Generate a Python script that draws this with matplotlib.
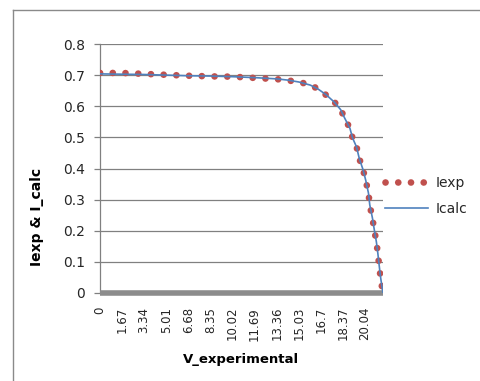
import matplotlib
matplotlib.use("Agg")
import matplotlib.pyplot as plt
from matplotlib.lines import Line2D

v_exp = [0, 1.67, 3.34, 5.01, 6.68, 8.35, 10.02, 11.69, 13.36, 14.2, 15.03,
         15.9, 16.5, 17.1, 17.7, 18.2, 18.5, 18.9, 19.1, 19.4, 19.6, 19.9,
         20.1, 20.3, 20.4, 20.6, 20.75, 20.9, 21.0, 21.1, 21.2, 21.3, 21.4]
i_exp = [0.707, 0.707, 0.704, 0.701, 0.698, 0.696, 0.695, 0.691, 0.687, 0.683, 0.678,
         0.669, 0.655, 0.636, 0.615, 0.590, 0.561, 0.529, 0.497, 0.470, 0.433, 0.395,
         0.360, 0.322, 0.282, 0.240, 0.200, 0.165, 0.130, 0.092, 0.055, 0.025, 0.0]
i_calc = [0.704, 0.703, 0.702, 0.700, 0.698, 0.697, 0.695, 0.692, 0.688, 0.684, 0.678,
          0.668, 0.655, 0.637, 0.614, 0.589, 0.562, 0.529, 0.498, 0.469, 0.433, 0.395,
          0.361, 0.321, 0.283, 0.241, 0.201, 0.164, 0.131, 0.093, 0.056, 0.026, 0.0]

x_ticks = [0, 1.67, 3.34, 5.01, 6.68, 8.35, 10.02, 11.69, 13.36, 15.03, 16.7, 18.37, 20.04]
x_tick_labels = ["0", "1.67", "3.34", "5.01", "6.68", "8.35", "10.02", "11.69",
                 "13.36", "15.03", "16.7", "18.37", "20.04"]
y_ticks = [0, 0.1, 0.2, 0.3, 0.4, 0.5, 0.6, 0.7, 0.8]
y_tick_labels = ["0", "0.1", "0.2", "0.3", "0.4", "0.5", "0.6", "0.7", "0.8"]

W, H = 481, 381
fig = plt.figure(figsize=(W / 100, H / 100), dpi=100)
fig.patch.set_facecolor("white")

# plot area in pixels: x 100..383, y 44..293
ax = fig.add_axes([100 / W, 1 - 293 / H, 283 / W, 249 / H])

red = "#C0504D"
blue = "#4F81BD"
grey = "#808080"

ax.plot(v_exp, i_exp, color=red, linewidth=4.8, linestyle=(0, (0.01, 1.9)),
        dash_capstyle="round", label="Iexp", zorder=3)
ax.plot(v_exp, i_calc, color=blue, linewidth=1.2, label="Icalc", zorder=4)

ax.set_xlim(0, v_exp[-1])
ax.set_ylim(0, 0.8)
ax.set_xticks(x_ticks)
ax.set_xticklabels(x_tick_labels, rotation=90, fontsize=8.5, color="#262626")
ax.set_yticks(y_ticks)
ax.set_yticklabels(y_tick_labels, fontsize=10, color="#262626")

ax.grid(True, axis="y", color=grey, linewidth=0.9)
ax.set_axisbelow(True)
for s in ("top", "right"):
    ax.spines[s].set_visible(False)
ax.spines["left"].set_color(grey)
ax.spines["left"].set_linewidth(0.9)
ax.spines["bottom"].set_color("#8c8c8c")
ax.spines["bottom"].set_linewidth(4)
ax.spines["bottom"].set_capstyle("butt")
ax.tick_params(axis="y", length=4, width=0.9, color=grey, pad=7)
ax.tick_params(axis="x", length=0, pad=10)

fig.text(241.5 / W, 1 - 359 / H, "V_experimental", fontsize=9.5, fontweight="bold",
         ha="center", va="center")
fig.text(37 / W, 1 - 217 / H, "Iexp & I_calc", fontsize=10, fontweight="bold",
         rotation=90, ha="center", va="center")

fig.legend(handles=ax.get_lines(), loc="center left",
           bbox_to_anchor=(385 / W, 1 - 196 / H), frameon=False, fontsize=10,
           borderpad=0, borderaxespad=0, handlelength=3.1, handletextpad=0.55,
           labelspacing=0.9, labelcolor="#262626")

# chart area border (left and top edges visible)
fig.add_artist(Line2D([12.5 / W, 12.5 / W], [0, 1 - 10 / H], color="#8a8a8a", linewidth=1))
fig.add_artist(Line2D([12.5 / W, 1], [1 - 10 / H, 1 - 10 / H], color="#8a8a8a", linewidth=1))

fig.savefig("out.png", dpi=100)
